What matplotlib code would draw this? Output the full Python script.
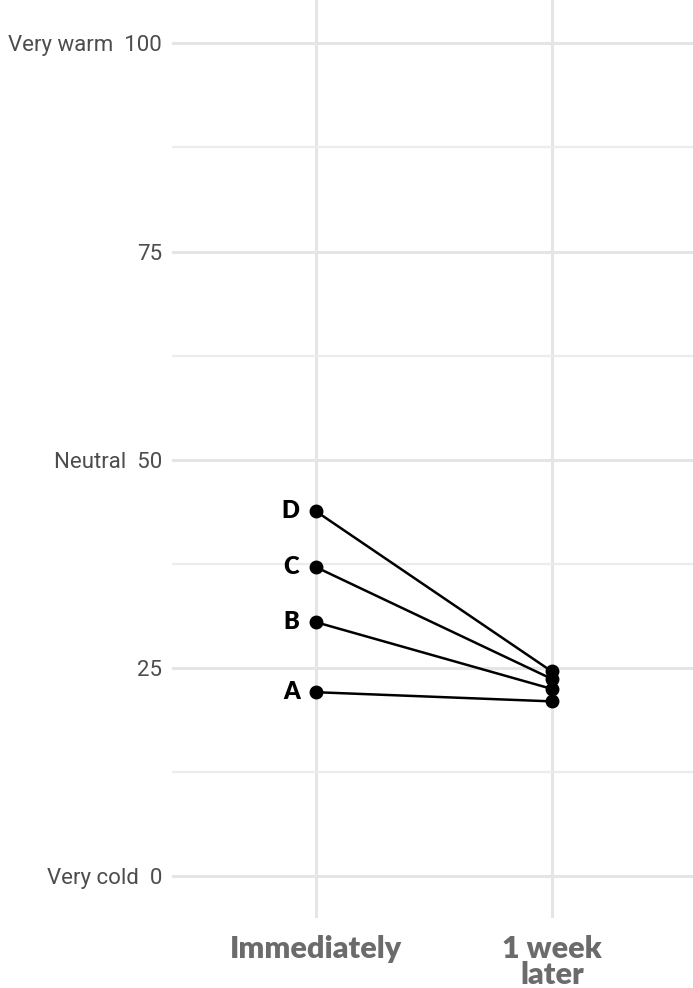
import matplotlib
matplotlib.use("Agg")
from matplotlib import pyplot as plt

# data
groups = ['A', 'B', 'C', 'D']
immediately = [22.1, 30.5, 37.1, 43.8]
week_later = [21.0, 22.5, 23.7, 24.6]
x_labels = ['Immediately', '1 week\nlater']
y_ticks = [0, 25, 50, 75, 100]
y_tick_labels = ['Very cold  0', '25', 'Neutral  50', '75', 'Very warm  100']

fig = plt.figure(figsize=(6.93, 9.88), dpi=100)
ax = fig.add_axes([0.248, 0.0709, 0.752, 0.9291])

xs = [1, 2]
for g, a, b in zip(groups, immediately, week_later):
    ax.plot(xs, [a, b], color='black', lw=1.8, zorder=3)
    ax.plot(xs, [a, b], 'o', color='black', ms=9, zorder=4)
    ax.text(1, a, g + '   ', ha='right', va='center', fontsize=17,
            fontweight='heavy', family=['Lato', 'DejaVu Sans'])

ax.set_xlim(0.387, 2.6)
ax.set_ylim(-5, 105.2)

ax.set_yticks(y_ticks)
ax.set_yticklabels(y_tick_labels, family=['Roboto', 'DejaVu Sans'],
                   fontsize=16, color='#4d4d4d')
ax.set_yticks([12.5, 37.5, 62.5, 87.5], minor=True)
ax.set_xticks(xs)
ax.set_xticklabels(x_labels, family=['Lato', 'DejaVu Sans'], fontsize=22,
                   fontweight='heavy', color='#6b6b6b', linespacing=0.95)

ax.tick_params(axis='both', which='both', length=0)
ax.tick_params(axis='y', pad=7)
ax.tick_params(axis='x', pad=12)

ax.grid(True, which='major', color='#e5e5e5', lw=2.2)
ax.grid(True, which='minor', axis='y', color='#ececec', lw=1.6)
ax.set_axisbelow(True)
for s in ax.spines.values():
    s.set_visible(False)

fig.savefig('out.png', dpi=100)
